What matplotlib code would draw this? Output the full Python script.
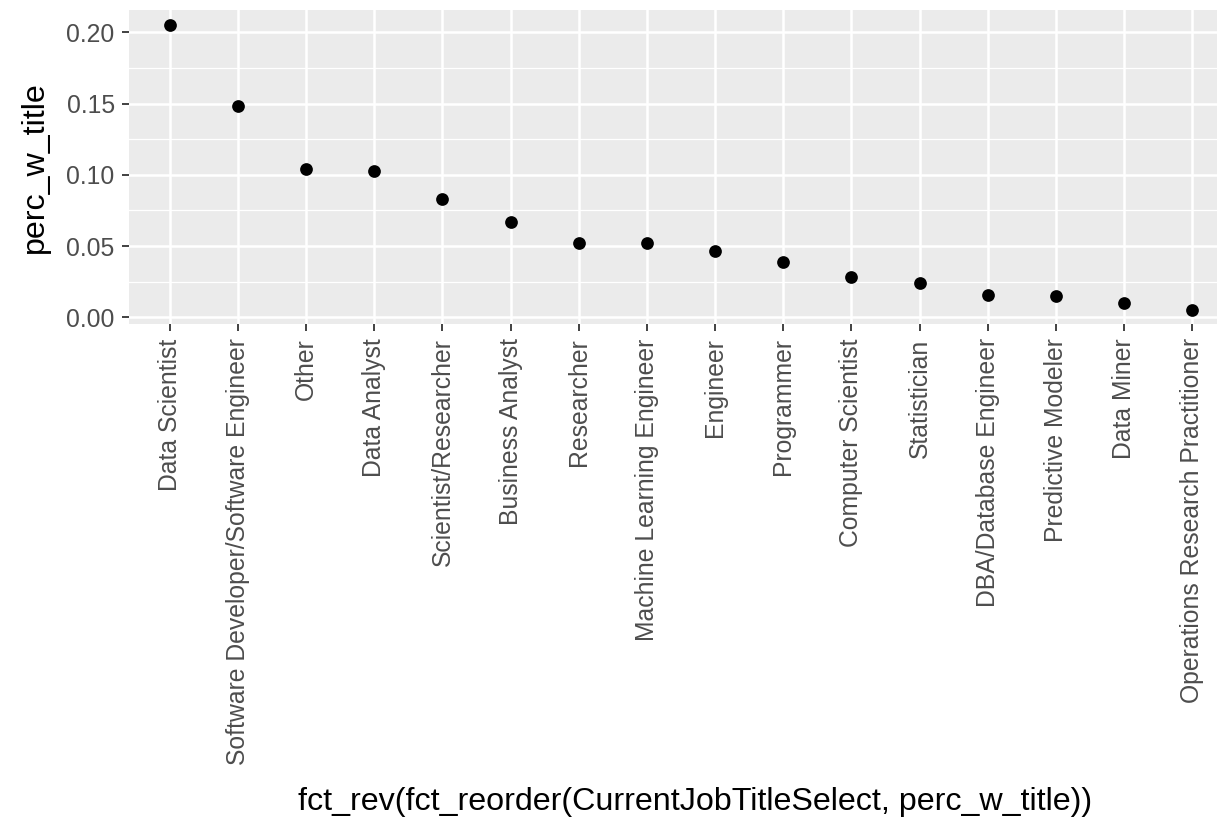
import matplotlib
matplotlib.use('Agg')
import matplotlib.pyplot as plt
from matplotlib.ticker import MultipleLocator

titles = ['Data Scientist', 'Software Developer/Software Engineer', 'Other', 'Data Analyst',
          'Scientist/Researcher', 'Business Analyst', 'Researcher', 'Machine Learning Engineer',
          'Engineer', 'Programmer', 'Computer Scientist', 'Statistician', 'DBA/Database Engineer',
          'Predictive Modeler', 'Data Miner', 'Operations Research Practitioner']
perc_w_title = [0.2054, 0.1485, 0.1040, 0.1023, 0.0827, 0.0672, 0.0522, 0.0521,
                0.0466, 0.0389, 0.0283, 0.0243, 0.0159, 0.0152, 0.0103, 0.0051]

plt.rcParams['font.family'] = ['Liberation Sans', 'DejaVu Sans']

fig = plt.figure(figsize=(12.17, 8.21), dpi=100)
# panel runs a bit past the right edge, like the cropped original
ax = fig.add_axes([129 / 1217, 1 - 324 / 821, (1233 - 129) / 1217, (324 - 10) / 821])
ax.set_facecolor('#EBEBEB')
for s in ax.spines.values():
    s.set_visible(False)

x = list(range(len(titles)))
ax.scatter(x, perc_w_title, s=84, color='black', zorder=3, linewidths=0)

ax.set_xlim(-0.6, len(titles) - 0.4)
ax.set_ylim(-0.0047, 0.2156)
ax.set_xticks(x)
ax.set_xticklabels(titles, rotation=90, va='top', ha='center')
ax.yaxis.set_minor_locator(MultipleLocator(0.025))
ax.set_yticks([0, 0.05, 0.10, 0.15, 0.20])
ax.set_yticklabels(['0.00', '0.05', '0.10', '0.15', '0.20'])

ax.grid(which='major', color='white', linewidth=1.8, zorder=0)
ax.grid(which='minor', axis='y', color='white', linewidth=0.9, zorder=0)
ax.set_axisbelow(True)
ax.tick_params(which='major', length=4.8, width=1.3, color='#333333',
               labelcolor='#4D4D4D', labelsize=17.8, pad=5.5)
ax.tick_params(which='minor', length=0)

ax.set_xlabel('fct_rev(fct_reorder(CurrentJobTitleSelect, perc_w_title))', fontsize=23.2)
ax.set_ylabel('perc_w_title', fontsize=23.2)
ax.xaxis.set_label_coords((695 - 129) / 1104, (324 - 787) / 314)
ax.yaxis.label.set_va('center')
ax.yaxis.set_label_coords((35 - 129) / 1104, (324 - 167) / 314)

fig.savefig('out.png', dpi=100)
